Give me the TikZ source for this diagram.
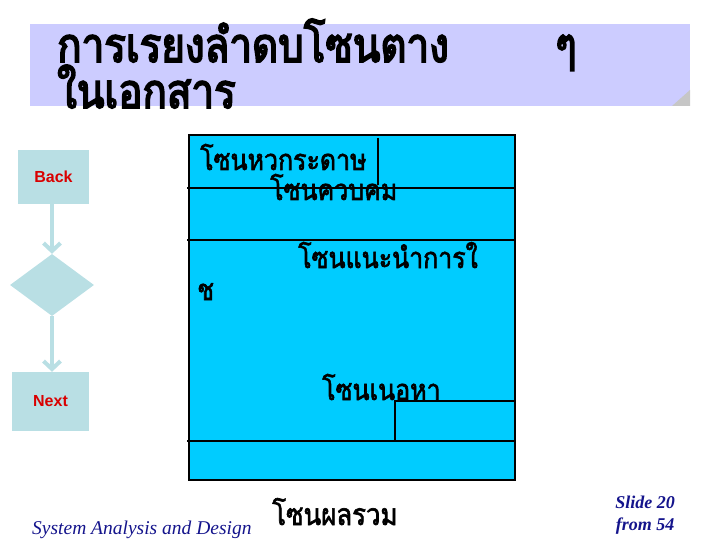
\documentclass[tikz,border=0pt]{standalone}
\usepackage{fontspec}
\setsansfont{Liberation Sans}
\newfontfamily\thaifont[Script=Thai, FakeStretch=0.86, AutoFakeBold=2]{Loma}
\newfontfamily\thaititle[Script=Thai, FakeStretch=0.84, AutoFakeBold=3.5]{Loma}
\newfontfamily\footfont{Liberation Serif}
\usepackage{tikz}
\usetikzlibrary{shapes.geometric, arrows.meta}
\usepackage{xcolor}
\definecolor{titlebg}{RGB}{204,204,255}
\definecolor{navbg}{RGB}{185,223,228}
\definecolor{zonebg}{RGB}{0,204,255}
\definecolor{footblue}{RGB}{20,20,140}

\begin{document}
\begin{tikzpicture}[
    x=1pt, y=-1pt,
    navbox/.style={fill=navbg, minimum width=71pt, minimum height=54pt, font=\sffamily\bfseries\fontsize{16}{18}\selectfont, text=red!85!black},
    navarrow/.style={-{Straight Barb[length=8pt, width=17pt, line width=4pt]}, line width=3.5pt, draw=navbg},
    zone/.style={anchor=base west, inner sep=0pt, text depth=0pt, font=\thaifont\bfseries\fontsize{29}{32}\selectfont},
    bigtitle/.style={anchor=base west, inner sep=0pt, font=\thaititle\bfseries\fontsize{48}{52}\selectfont},
    zoneline/.style={line width=1.5pt}
]
\useasboundingbox (0,0) rectangle (720,540);

% หัวเรื่อง
\fill[titlebg] (30,24) rectangle (690,106);
\fill[gray!45] (672,106) -- (690,90) -- (690,106) -- cycle;
\node[bigtitle] (T1) at (57,62) {การเรยงลำดบโซนตาง};
\node[bigtitle] (T2) at (555,62) {ๆ};
\node[bigtitle] (T3) at (57,108) {ในเอกสาร};

% ปุ่มนำทาง
\node[navbox] (back) at (53.5,177) {Back};
\node[diamond, fill=navbg, minimum width=84pt, minimum height=62pt, inner sep=0pt] (dec) at (52,285) {};
\node[navbox, minimum width=77pt, minimum height=59pt] (next) at (50.5,401.5) {Next};
\draw[navarrow] (back.south -| dec.north) -- (dec.north);
\draw[navarrow] (dec.south) -- (dec.south |- next.north);

% โซนของเอกสาร
\draw[zoneline, fill=zonebg] (189,135) rectangle (515,480);
\draw[zoneline] (187,188) -- (515,188);
\draw[zoneline] (187,240) -- (515,240);
\draw[zoneline] (187,441) -- (515,441);
\draw[zoneline] (378,138) -- (378,185);
\draw[zoneline] (395,441) -- (395,401) -- (515,401);

\node[zone] (head) at (200,170) {โซนหวกระดาษ};
\node[zone] (ctrl) at (270,200) {โซนควบคม};
\node[zone] (intro) at (298,268) {โซนแนะนำการใ};
\node[zone] (intro2) at (197,300) {ช};
\node[zone] (body) at (322,400) {โซนเนอหา};

% ท้ายหน้า
\node[anchor=base west, inner sep=0pt, font=\footfont\itshape\fontsize{19.5}{22}\selectfont, text=footblue] (course) at (32,534) {System Analysis and Design};
\node[zone, font=\thaifont\bfseries\fontsize{30}{32}\selectfont] (total) at (272,525) {โซนผลรวม};
\node[align=center, inner sep=0pt, font=\footfont\itshape\bfseries\fontsize{18}{22}\selectfont, text=footblue] (page) at (645,515) {Slide 20\\from 54};

\end{tikzpicture}
\end{document}
